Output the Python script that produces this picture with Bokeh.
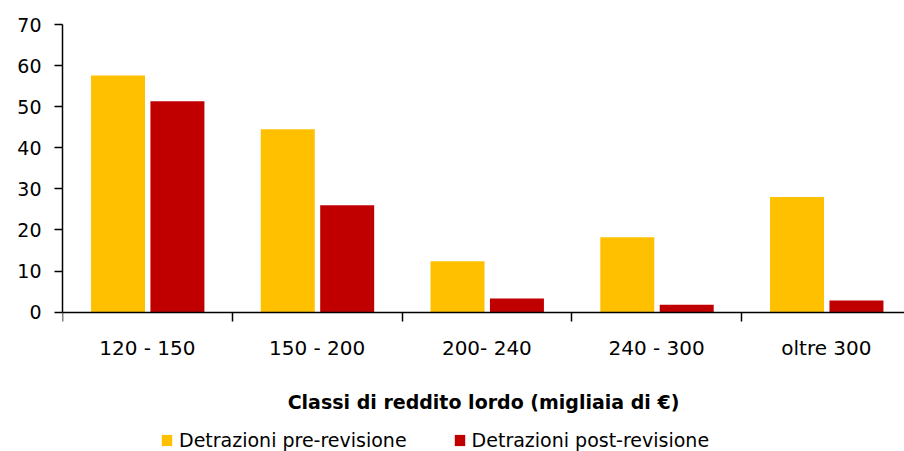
import numpy as np
from bokeh.plotting import figure
from bokeh.models import (ColumnDataSource, Range1d, LinearAxis, FixedTicker,
                          Legend, LegendItem)
from bokeh.transform import dodge
from bokeh.embed import file_html
from bokeh.resources import INLINE

categories = ["120 - 150", "150 - 200", "200- 240", "240 - 300", "oltre 300"]
pre_values = [57.6, 44.5, 12.4, 18.2, 28.0]
post_values = [51.3, 26.0, 3.3, 1.8, 2.8]
series_names = ["Detrazioni pre-revisione", "Detrazioni post-revisione"]
y_ticks = [0, 10, 20, 30, 40, 50, 60, 70]
x_title = "Classi di reddito lordo (migliaia di €)"

FONT = "DejaVu Sans"
YELLOW = "#FFC000"
RED = "#C00000"

centers = np.arange(len(categories)) + 0.5
source = ColumnDataSource(dict(x=centers, pre=pre_values, post=post_values))

# the frame extends below zero so that the category labels, the axis title
# and the legend all sit inside the drawing area
p = figure(frame_width=842, frame_height=427, output_backend="svg", toolbar_location=None,
           x_range=Range1d(0, 4.96), y_range=Range1d(-33.93, 70),
           x_axis_location=None, y_axis_location=None,
           min_border_left=62, min_border_top=24, min_border_right=0,
           min_border_bottom=0)
p.outline_line_color = None
p.xgrid.visible = False
p.ygrid.visible = False
p.background_fill_color = "white"
p.border_fill_color = "white"

r_pre = p.vbar(x=dodge("x", -0.173), top="pre", width=0.318, source=source,
               fill_color=YELLOW, line_color=None)
r_post = p.vbar(x=dodge("x", 0.177), top="post", width=0.318, source=source,
                fill_color=RED, line_color=None)

yaxis = LinearAxis(ticker=FixedTicker(ticks=y_ticks, minor_ticks=[]),
                   bounds=(y_ticks[0], y_ticks[-1]))
yaxis.axis_line_color = "black"
yaxis.axis_line_width = 1.5
yaxis.major_tick_line_color = "black"
yaxis.major_tick_line_width = 1.5
yaxis.major_tick_in = 0
yaxis.major_tick_out = 8
yaxis.minor_tick_line_color = None
yaxis.major_label_standoff = 13
yaxis.major_label_text_font = FONT
yaxis.major_label_text_font_size = "19px"
yaxis.major_label_text_color = "black"
p.add_layout(yaxis, "left")

boundaries = list(range(len(categories) + 1))
xaxis = LinearAxis(ticker=FixedTicker(ticks=list(centers), minor_ticks=boundaries),
                   fixed_location=0)
xaxis.major_label_overrides = {float(c): lab for c, lab in zip(centers, categories)}
xaxis.axis_line_color = "black"
xaxis.axis_line_width = 1.5
xaxis.major_tick_line_color = None
xaxis.major_tick_in = 0
xaxis.major_tick_out = 0
xaxis.minor_tick_line_color = "black"
xaxis.minor_tick_line_width = 1.5
xaxis.minor_tick_in = 0
xaxis.minor_tick_out = 9
xaxis.major_label_standoff = 15
xaxis.major_label_text_font = FONT
xaxis.major_label_text_font_size = "20px"
xaxis.major_label_text_color = "black"
xaxis.axis_label = x_title
xaxis.axis_label_text_font = FONT
xaxis.axis_label_text_font_style = "bold"
xaxis.axis_label_text_font_size = "19px"
xaxis.axis_label_text_color = "black"
xaxis.axis_label_standoff = 27
p.add_layout(xaxis, "below")

legend = Legend(items=[LegendItem(label=series_names[0], renderers=[r_pre]),
                       LegendItem(label=series_names[1], renderers=[r_post])],
                orientation="horizontal", location=(98, 0))
legend.label_text_font = FONT
legend.label_text_font_size = "19px"
legend.label_text_color = "black"
legend.glyph_width = 13
legend.glyph_height = 14
legend.label_standoff = 6
legend.spacing = 46
legend.padding = 0
legend.margin = 0
legend.border_line_color = None
legend.background_fill_alpha = 0
p.add_layout(legend, "center")

open("out.html", "w").write(file_html(p, INLINE))
